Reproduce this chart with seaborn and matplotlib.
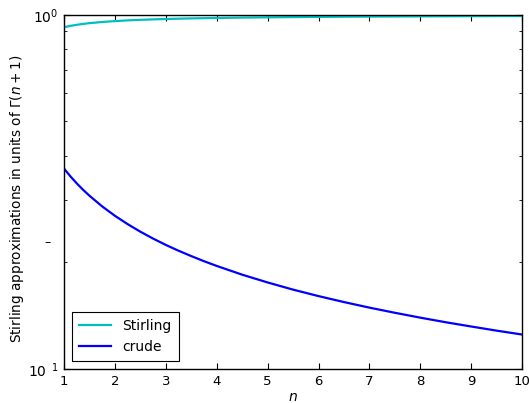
import numpy as np
import pandas as pd
import seaborn as sns
import matplotlib
matplotlib.use("Agg")
import matplotlib.pyplot as plt
from matplotlib.ticker import LogLocator, NullFormatter, FixedLocator, FixedFormatter

# n values and the two approximations (ratio to Gamma(n+1))
n_vals = [1.0, 1.125, 1.25, 1.375, 1.5, 1.75, 2.0, 2.25, 2.5, 2.75, 3.0,
          3.25, 3.5, 3.75, 4.0, 4.5, 5.0, 5.5, 6.0, 6.5, 7.0, 7.5, 8.0,
          8.5, 9.0, 9.5, 10.0]
stirling = [0.9221, 0.9303, 0.9366, 0.9421, 0.9468, 0.9540, 0.9595, 0.9641,
            0.9674, 0.9703, 0.9727, 0.9748, 0.9767, 0.9781, 0.9794, 0.9817,
            0.9834, 0.9848, 0.9862, 0.9873, 0.9882, 0.9889, 0.9896, 0.9903,
            0.9908, 0.9913, 0.9917]
crude = [0.3679, 0.3499, 0.3342, 0.3205, 0.3084, 0.2877, 0.2707, 0.2564,
         0.2441, 0.2334, 0.2240, 0.2157, 0.2083, 0.2015, 0.1954, 0.1846,
         0.1755, 0.1675, 0.1606, 0.1545, 0.1490, 0.1441, 0.1396, 0.1355,
         0.1318, 0.1283, 0.1251]
series_names = ["Stirling", "crude"]
series_colors = [(0.0, 0.75, 0.75), (0.0, 0.0, 1.0)]
x_ticks = [1, 2, 3, 4, 5, 6, 7, 8, 9, 10]

df = pd.DataFrame({
    "n": n_vals * 2,
    "ratio": stirling + crude,
    "series": [series_names[0]] * len(n_vals) + [series_names[1]] * len(n_vals),
})

plt.rcParams["font.family"] = ["DejaVu Sans"]
plt.rcParams["font.size"] = 9.5
plt.rcParams["mathtext.fontset"] = "dejavusans"

fig = plt.figure(figsize=(5.29, 4.03), dpi=100)
ax = fig.add_axes([0.121, 0.0844, 0.866, 0.879])

sns.lineplot(data=df, x="n", y="ratio", hue="series",
             palette=dict(zip(series_names, series_colors)),
             linewidth=1.6, ax=ax, legend=True)

ax.set_yscale("log")
ax.set_xlim(1, 10)
ax.set_ylim(0.1, 1.0)
ax.xaxis.set_major_locator(FixedLocator(x_ticks))
ax.set_xticklabels([str(t) for t in x_ticks])
ax.yaxis.set_major_locator(FixedLocator([0.1, 1.0]))
ax.yaxis.set_major_formatter(FixedFormatter([r"$10^{\;\;1}$", r"$10^{0}$"]))
ax.yaxis.set_minor_locator(LogLocator(base=10, subs=np.arange(2, 10)))
ax.yaxis.set_minor_formatter(NullFormatter())

for s in ax.spines.values():
    s.set_visible(True)
    s.set_color("black")
    s.set_linewidth(1.0)
ax.tick_params(which="both", direction="in", top=True, right=True,
               colors="black")
ax.tick_params(which="major", length=4, width=0.8, pad=4, labelsize=9.5)
ax.tick_params(axis="y", which="major", labelsize=10)
ax.tick_params(which="minor", length=2, width=0.6)

ax.set_xlabel(r"$n$", fontsize=10, labelpad=2)
ax.set_ylabel(r"Stirling approximations in units of $\Gamma(n+1)$",
              fontsize=9.8)
ax.yaxis.set_label_coords(-0.082, 0.48)
ax.text(-0.037, 0.356, "\u2013", transform=ax.transAxes, fontsize=9,
        ha="center", va="center")

leg = ax.legend(loc="lower left", frameon=True, fancybox=False,
                edgecolor="black", framealpha=1, fontsize=10,
                handlelength=2.3, borderpad=0.5, borderaxespad=0.6)
leg.get_frame().set_linewidth(0.8)
ax.set_facecolor("white")
fig.patch.set_facecolor("white")

fig.savefig("out.png", dpi=100)
